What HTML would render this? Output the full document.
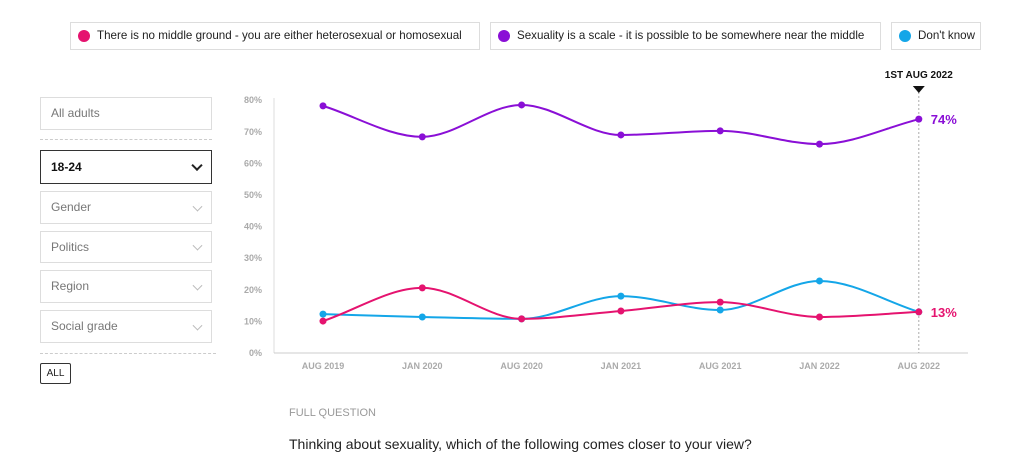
<!DOCTYPE html>
<html><head><meta charset="utf-8"><style>
body{margin:0;width:1024px;height:469px;background:#fff;font-family:"Liberation Sans",sans-serif;position:relative;overflow:hidden;color:#222}
.leg{position:absolute;top:22px;height:28px;border:1px solid #ddd;box-sizing:border-box;font-size:11.6px;line-height:26px;padding-left:26px;color:#222;white-space:nowrap}
.leg i{position:absolute;left:7px;top:7px;width:12px;height:12px;border-radius:50%}
.box{position:absolute;left:40px;width:172px;border:1px solid #ddd;box-sizing:border-box;font-size:12px;color:#777;padding-left:10px}
.chev{position:absolute;right:10px;top:50%;width:6px;height:6px;border-right:1px solid #bbb;border-bottom:1px solid #bbb;transform:translateY(-70%) rotate(45deg)}
.dash{position:absolute;left:40px;width:176px;border-top:1px dashed #ccc}
</style></head><body>
<div class="leg" style="left:70px;width:410px"><i style="background:#e5136f"></i>There is no middle ground - you are either heterosexual or homosexual</div>
<div class="leg" style="left:490px;width:391px"><i style="background:#8a0fd6"></i>Sexuality is a scale - it is possible to be somewhere near the middle</div>
<div class="leg" style="left:891px;width:90px"><i style="background:#14a6e8"></i>Don't know</div>

<div class="box" style="top:97px;height:33px;line-height:31px">All adults</div>
<div class="dash" style="top:139px;width:172px"></div>
<div class="box" style="top:150px;height:34px;line-height:32px;border:1px solid #333;color:#111;font-weight:bold">18-24<span class="chev" style="border-color:#222;border-width:2px"></span></div>
<div class="box" style="top:191px;height:33px;line-height:31px">Gender<span class="chev"></span></div>
<div class="box" style="top:231px;height:32px;line-height:30px">Politics<span class="chev"></span></div>
<div class="box" style="top:270px;height:33px;line-height:31px">Region<span class="chev"></span></div>
<div class="box" style="top:310px;height:33px;line-height:31px">Social grade<span class="chev"></span></div>
<div class="dash" style="top:353px"></div>
<div style="position:absolute;left:40px;top:363px;width:31px;height:21px;border:1px solid #333;box-sizing:border-box;font-size:10px;line-height:19px;text-align:center;border-radius:2px">ALL</div>

<svg id="chart" width="1024" height="469" style="position:absolute;left:0;top:0"></svg>

<div style="position:absolute;left:289px;top:407px;font-size:11px;color:#999">FULL QUESTION</div>
<div style="position:absolute;left:289px;top:436px;font-size:14px;color:#222">Thinking about sexuality, which of the following comes closer to your view?</div>

<script>
const categories=["AUG 2019","JAN 2020","AUG 2020","JAN 2021","AUG 2021","JAN 2022","AUG 2022"];
const noMiddle=[10.1,20.6,10.8,13.3,16.1,11.4,13];
const scale=[78.2,68.4,78.5,69,70.3,66.1,74];
const dontKnow=[12.3,11.4,10.8,18,13.6,22.8,13];
const yTicks=[0,10,20,30,40,50,60,70,80];
const NS="http://www.w3.org/2000/svg";
const svg=document.getElementById('chart');
const x=i=>323+i*99.3;
const y=v=>353-v*3.16;
function mk(t,a,p){const e=document.createElementNS(NS,t);for(const k in a)e.setAttribute(k,a[k]);(p||svg).appendChild(e);return e;}
const ax=mk('line',{x1:274,y1:98,x2:274,y2:353,stroke:'#ddd'});


const bx=mk('line',{x1:274,y1:353,x2:968,y2:353,stroke:'#ccc'});


yTicks.forEach(v=>{const t=mk('text',{x:262,y:y(v)+3,'text-anchor':'end','font-size':9,'font-weight':'bold',fill:'#aaa'});t.textContent=v+'%';

});
categories.forEach((c,i)=>{const t=mk('text',{x:x(i),y:369,'text-anchor':'middle','font-size':9,'font-weight':'bold',fill:'#aaa'});t.textContent=c;

});
const last=categories.length-1;
const ml=mk('line',{x1:x(last),y1:92,x2:x(last),y2:353,stroke:'#aaa','stroke-dasharray':'2,2'});


const mt=mk('text',{x:x(last),y:78,'text-anchor':'middle','font-size':10,'font-weight':'bold',fill:'#111'});mt.textContent='1ST AUG 2022';


const tri=mk('path',{d:`M${x(last)-6},86 L${x(last)+6},86 L${x(last)},93 Z`,fill:'#111'});


function monotone(pts){const n=pts.length,dx=[],s=[],m=[];
for(let i=0;i<n-1;i++){dx[i]=pts[i+1][0]-pts[i][0];s[i]=(pts[i+1][1]-pts[i][1])/dx[i];}
m[0]=s[0];m[n-1]=s[n-2];
for(let i=1;i<n-1;i++){m[i]=s[i-1]*s[i]<=0?0:(s[i-1]*dx[i]+s[i]*dx[i-1])/(dx[i-1]+dx[i]);
const a=Math.abs(s[i-1]),b=Math.abs(s[i]);if(s[i-1]*s[i]>0){const lim=3*Math.min(a,b);if(Math.abs(m[i])>lim)m[i]=Math.sign(m[i])*lim;}}
let d=`M${pts[0][0]},${pts[0][1]}`;
for(let i=0;i<n-1;i++){const h=dx[i]/3;d+=` C${pts[i][0]+h},${pts[i][1]+m[i]*h} ${pts[i+1][0]-h},${pts[i+1][1]-m[i+1]*h} ${pts[i+1][0]},${pts[i+1][1]}`;}
return d;}
function series(vals,col,name){const pts=vals.map((v,i)=>[x(i),y(v)]);
const p=mk('path',{d:monotone(pts),fill:'none',stroke:col,'stroke-width':2});


pts.forEach(q=>{const c=mk('circle',{cx:q[0],cy:q[1],r:3.5,fill:col});

});
const lb=mk('text',{x:x(last)+12,y:y(vals[last])+5,'font-size':13,'font-weight':'bold',fill:col});lb.textContent=Math.round(vals[last])+'%';


return lb;}
series(scale,'#8a0fd6','scale');
series(dontKnow,'#14a6e8','dont-know').remove();
series(noMiddle,'#e5136f','no-middle-ground');
</script>
</body></html>
